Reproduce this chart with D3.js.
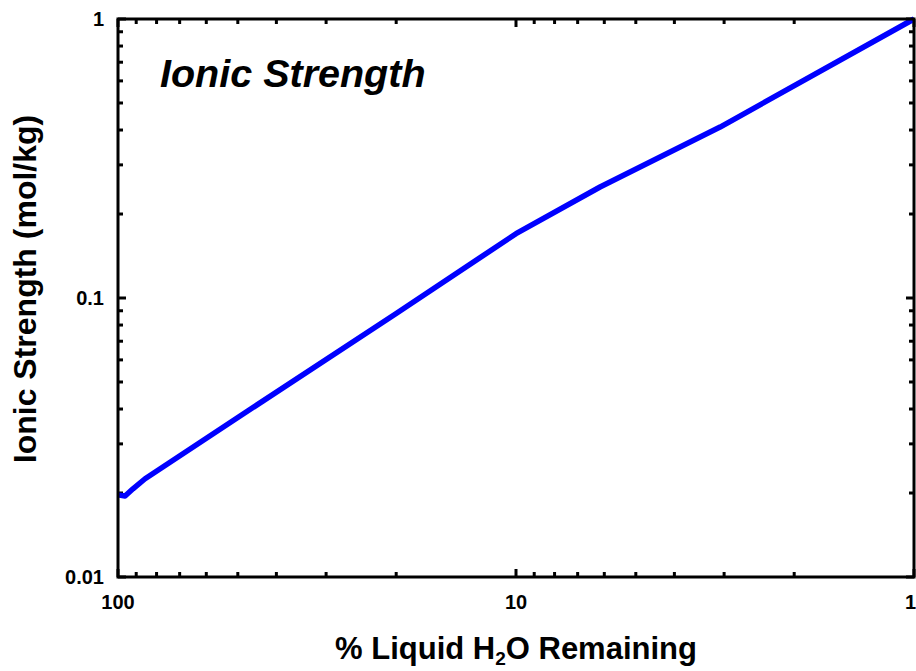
<!DOCTYPE html>
<html>
<head>
<meta charset="utf-8">
<script src="https://cdn.jsdelivr.net/npm/d3@7"></script>
<style>
  body { margin: 0; background: #fff; }
  svg text { font-family: "Liberation Sans", Arial, sans-serif; font-weight: bold; fill: #000; }
</style>
</head>
<body>
<div id="chart"></div>
<script>
// Ionic strength vs % liquid water remaining (log-log)
const pctRemaining  = [100, 96, 91.7, 85.5, 50, 20, 10, 6.15, 3.07, 1];
const ionicStrength = [0.0197, 0.0195, 0.0207, 0.0225, 0.0373, 0.088, 0.17, 0.25, 0.41, 1.0];

const xTickLabels = [100, 10, 1];
const yTickLabels = [1, 0.1, 0.01];

const width = 916, height = 671;
const margin = { top: 19, right: 2, bottom: 94, left: 118 };
const innerW = width - margin.left - margin.right;
const innerH = height - margin.top - margin.bottom;

const svg = d3.select("#chart").append("svg")
  .attr("width", width).attr("height", height);

const g = svg.append("g").attr("transform", `translate(${margin.left},${margin.top})`);

const x = d3.scaleLog().domain([100, 1]).range([0, innerW]);
const y = d3.scaleLog().domain([0.01, 1]).range([innerH, 0]);

// ticks mineurs : 2..9 par décade
const minorX = [];
[1, 10].forEach(b => { for (let k = 2; k <= 9; k++) minorX.push(b * k); });
const minorY = [];
[0.01, 0.1].forEach(b => { for (let k = 2; k <= 9; k++) minorY.push(b * k); });

const tickStroke = 3;
function drawX(yPos, dir) {
  g.append("g").selectAll("line").data(minorX).join("line")
    .attr("x1", d => x(d)).attr("x2", d => x(d))
    .attr("y1", yPos).attr("y2", yPos + dir * 5)
    .attr("stroke", "#000").attr("stroke-width", tickStroke);
  g.append("g").selectAll("line").data(xTickLabels).join("line")
    .attr("x1", d => x(d)).attr("x2", d => x(d))
    .attr("y1", yPos).attr("y2", yPos + dir * 8)
    .attr("stroke", "#000").attr("stroke-width", tickStroke);
}
function drawY(xPos, dir) {
  g.append("g").selectAll("line").data(minorY).join("line")
    .attr("y1", d => y(d)).attr("y2", d => y(d))
    .attr("x1", xPos).attr("x2", xPos + dir * 5)
    .attr("stroke", "#000").attr("stroke-width", tickStroke);
  g.append("g").selectAll("line").data(yTickLabels).join("line")
    .attr("y1", d => y(d)).attr("y2", d => y(d))
    .attr("x1", xPos).attr("x2", xPos + dir * 8)
    .attr("stroke", "#000").attr("stroke-width", tickStroke);
}
drawX(innerH, -1);
drawX(0, 1);
drawY(0, 1);
drawY(innerW, -1);

// Ligne
const line = d3.line()
  .x((d, i) => x(pctRemaining[i]))
  .y(d => y(d));

g.append("path")
  .datum(ionicStrength)
  .attr("fill", "none")
  .attr("stroke", "#0000ff")
  .attr("stroke-width", 5.5)
  .attr("stroke-linejoin", "round")
  .attr("d", line);

// Cadre
g.append("rect")
  .attr("width", innerW).attr("height", innerH)
  .attr("fill", "none").attr("stroke", "#000").attr("stroke-width", 3);

// Étiquettes
g.append("g").selectAll("text").data(xTickLabels).join("text")
  .attr("x", d => d === 1 ? innerW + 2 : x(d)).attr("y", innerH + 32)
  .attr("text-anchor", d => d === 1 ? "end" : "middle").attr("font-size", 20)
  .text(d => d);

g.append("g").selectAll("text").data(yTickLabels).join("text")
  .attr("x", -14).attr("y", d => y(d)).attr("dy", "0.35em")
  .attr("text-anchor", "end").attr("font-size", 20)
  .text(d => d);

// Titres d'axes
const xt = svg.append("text")
  .attr("x", 516).attr("y", 659)
  .attr("text-anchor", "middle").attr("font-size", 31);
xt.append("tspan").text("% Liquid H");
xt.append("tspan").attr("font-size", 19).attr("dy", 6).text("2");
xt.append("tspan").attr("dy", -6).text("O Remaining");

svg.append("text")
  .attr("transform", "translate(36,289) rotate(-90)")
  .attr("text-anchor", "middle").attr("font-size", 32)
  .text("Ionic Strength (mol/kg)");

svg.append("text")
  .attr("x", 160).attr("y", 87)
  .attr("font-size", 39.5).attr("font-style", "italic")
  .text("Ionic Strength");
</script>
</body>
</html>
